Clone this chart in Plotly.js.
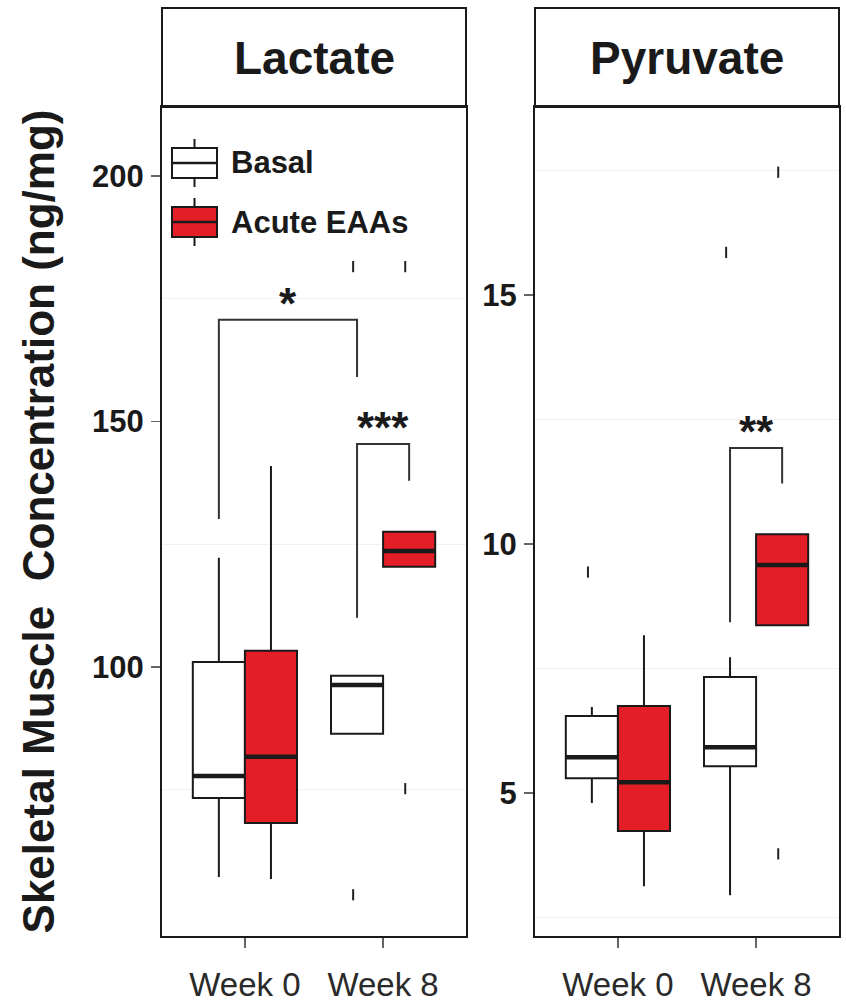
<!DOCTYPE html>
<html><head><meta charset="utf-8">
<script src="https://cdn.plot.ly/plotly-3.0.1.min.js"></script>
<style>body{margin:0;background:#fff}#chart{width:846px;height:1005px}</style>
</head><body><div id="chart"></div>
<script>
// ---------- data ----------
const categories = ['Week 0', 'Week 8'];
const groupNames = ['Basal', 'Acute EAAs'];
const panelTitles = ['Lactate', 'Pyruvate'];
const lacTickVals = [100, 150, 200];
const pyrTickVals = [5, 10, 15];

// Lactate (ng/mg)
const lacBasalQ1 = [73.3, 86.4];
const lacBasalMedian = [77.8, 96.3];
const lacBasalQ3 = [101.0, 98.2];
const lacBasalLower = [57.2, 86.4];
const lacBasalUpper = [122.2, 98.2];
const lacBasalOutliers = [[null], [181.5, 53.6]];

const lacAcuteQ1 = [68.2, 120.4];
const lacAcuteMedian = [81.7, 123.6];
const lacAcuteQ3 = [103.3, 127.5];
const lacAcuteLower = [56.8, 120.4];
const lacAcuteUpper = [140.9, 127.5];
const lacAcuteOutliers = [[null], [181.5, 75.2]];

// Pyruvate (ng/mg)
const pyrBasalQ1 = [5.30, 5.54];
const pyrBasalMedian = [5.72, 5.92];
const pyrBasalQ3 = [6.55, 7.33];
const pyrBasalLower = [4.80, 2.95];
const pyrBasalUpper = [6.73, 7.73];
const pyrBasalOutliers = [[9.44], [15.86]];

const pyrAcuteQ1 = [4.24, 8.37];
const pyrAcuteMedian = [5.22, 9.58];
const pyrAcuteQ3 = [6.75, 10.2];
const pyrAcuteLower = [3.13, 8.37];
const pyrAcuteUpper = [8.17, 10.2];
const pyrAcuteOutliers = [[null], [17.47, 3.78]];

// significance brackets: [category, group] of left & right legs
const lacBracketLabels = ['*', '***'];
const lacBracketLeftCat = [0, 1];
const lacBracketLeftGroup = [0, 0];
const lacBracketRightCat = [1, 1];
const lacBracketRightGroup = [0, 1];
const lacBracketLeftBottom = [130.1, 110.0];
const lacBracketRightBottom = [159.0, 137.9];
const lacBracketTop = [170.7, 145.4];

const pyrBracketLabels = ['**'];
const pyrBracketLeftCat = [1];
const pyrBracketLeftGroup = [0];
const pyrBracketRightCat = [1];
const pyrBracketRightGroup = [1];
const pyrBracketLeftBottom = [8.43];
const pyrBracketRightBottom = [11.22];
const pyrBracketTop = [11.93];

const yTitle = 'Skeletal Muscle\u00a0\u00a0Concentration (ng/mg)';

// ---------- style ----------
const W = 846, H = 1005;
const FONT = 'Liberation Sans, Arial, Helvetica, sans-serif';
const INK = '#1a1a1a';
const RED = '#e41e26';
const fills = ['#ffffff', RED];
const boxgap = 0.246;
const half = (1 - boxgap) / 4;
const offs = [-half, half];
const px = x => x / W;
const py = y => 1 - y / H;
const xDom1 = [px(162), px(466)];
const xDom2 = [px(535), px(839)];
const yDom = [py(936), py(107)];
const stripTop = py(8);

function boxTrace(gi, xa, ya, q1, med, q3, lo, hi, pts) {
  return {
    type: 'box', name: groupNames[gi], x: categories,
    q1: q1, median: med, q3: q3, lowerfence: lo, upperfence: hi, y: pts,
    xaxis: xa, yaxis: ya, offsetgroup: 'g' + gi, legendgroup: 'g' + gi,
    fillcolor: fills[gi], line: {color: INK, width: 2}, whiskerwidth: 0,
    boxpoints: 'all', jitter: 0, pointpos: -0.15,
    marker: {symbol: 'line-ns-open', size: 8, color: '#222', line: {color: '#222', width: 2}},
    showlegend: false, hoverinfo: 'skip'
  };
}

const data = [
  boxTrace(0, 'x', 'y', lacBasalQ1, lacBasalMedian, lacBasalQ3, lacBasalLower, lacBasalUpper, lacBasalOutliers),
  boxTrace(1, 'x', 'y', lacAcuteQ1, lacAcuteMedian, lacAcuteQ3, lacAcuteLower, lacAcuteUpper, lacAcuteOutliers),
  boxTrace(0, 'x2', 'y2', pyrBasalQ1, pyrBasalMedian, pyrBasalQ3, pyrBasalLower, pyrBasalUpper, pyrBasalOutliers),
  boxTrace(1, 'x2', 'y2', pyrAcuteQ1, pyrAcuteMedian, pyrAcuteQ3, pyrAcuteLower, pyrAcuteUpper, pyrAcuteOutliers)
];

const shapes = [];
const annotations = [];

// thick median bars
function medians(xr, yr, med, gi) {
  med.forEach((m, i) => {
    shapes.push({type: 'line', xref: xr, yref: yr, x0: i + offs[gi] - half, x1: i + offs[gi] + half,
      y0: m, y1: m, line: {color: INK, width: 4.5}});
  });
}
medians('x', 'y', lacBasalMedian, 0);
medians('x', 'y', lacAcuteMedian, 1);
medians('x2', 'y2', pyrBasalMedian, 0);
medians('x2', 'y2', pyrAcuteMedian, 1);

// brackets
function brackets(xr, yr, labels, lc, lg, rc, rg, lb, rb, top) {
  labels.forEach((lab, k) => {
    const xl = lc[k] + offs[lg[k]], xrr = rc[k] + offs[rg[k]];
    shapes.push({type: 'path', xref: xr, yref: yr,
      path: `M${xl},${lb[k]} L${xl},${top[k]} L${xrr},${top[k]} L${xrr},${rb[k]}`,
      line: {color: '#333', width: 2}});
    annotations.push({xref: xr, yref: yr, x: (xl + xrr) / 2, y: top[k], text: lab,
      showarrow: false, yanchor: 'bottom', yshift: -10,
      font: {family: FONT, size: 44, weight: 'bold', color: INK}});
  });
}
brackets('x', 'y', lacBracketLabels, lacBracketLeftCat, lacBracketLeftGroup, lacBracketRightCat,
  lacBracketRightGroup, lacBracketLeftBottom, lacBracketRightBottom, lacBracketTop);
brackets('x2', 'y2', pyrBracketLabels, pyrBracketLeftCat, pyrBracketLeftGroup, pyrBracketRightCat,
  pyrBracketRightGroup, pyrBracketLeftBottom, pyrBracketRightBottom, pyrBracketTop);

// facet strips
[xDom1, xDom2].forEach((d, k) => {
  shapes.push({type: 'rect', xref: 'paper', yref: 'paper', x0: d[0], x1: d[1], y0: yDom[1], y1: stripTop,
    fillcolor: '#ffffff', line: {color: INK, width: 2}, layer: 'below'});
  annotations.push({xref: 'paper', yref: 'paper', x: (d[0] + d[1]) / 2, y: (yDom[1] + stripTop) / 2,
    text: panelTitles[k], showarrow: false, xanchor: 'center', yanchor: 'middle',
    font: {family: FONT, size: 46, weight: 'bold', color: INK}});
});

// legend (drawn inside left panel)
const legRows = [163, 222];
legRows.forEach((cy, gi) => {
  shapes.push({type: 'rect', xref: 'paper', yref: 'paper', x0: px(172), x1: px(217), y0: py(cy + 15), y1: py(cy - 15),
    fillcolor: fills[gi], line: {color: INK, width: 2}});
  shapes.push({type: 'line', xref: 'paper', yref: 'paper', x0: px(172), x1: px(217), y0: py(cy), y1: py(cy),
    line: {color: INK, width: 2.5}});
  shapes.push({type: 'line', xref: 'paper', yref: 'paper', x0: px(194.5), x1: px(194.5), y0: py(cy - 15), y1: py(cy - 24),
    line: {color: INK, width: 2}});
  shapes.push({type: 'line', xref: 'paper', yref: 'paper', x0: px(194.5), x1: px(194.5), y0: py(cy + 15), y1: py(cy + 24),
    line: {color: INK, width: 2}});
  annotations.push({xref: 'paper', yref: 'paper', x: px(229), y: py(cy), text: groupNames[gi],
    showarrow: false, xanchor: 'left', yanchor: 'middle',
    font: {family: FONT, size: 31, weight: 'bold', color: INK}});
});

function xAxis(dom, anchor) {
  return {domain: dom, anchor: anchor, type: 'category', categoryarray: categories, range: [-0.6, 1.6],
    showline: true, mirror: true, linecolor: INK, linewidth: 2, showgrid: false, zeroline: false,
    ticks: 'outside', ticklen: 10, tickwidth: 1.5, tickcolor: '#666', ticklabelstandoff: 8,
    tickfont: {family: FONT, size: 33, color: '#2a2a2a'}, fixedrange: true};
}
function yAxis(anchor, range, tickvals, dtick, minor0) {
  return {domain: yDom, anchor: anchor, range: range, tickmode: 'array', tickvals: tickvals,
    showline: true, mirror: true, linecolor: INK, linewidth: 2, showgrid: false, zeroline: false,
    ticks: 'outside', ticklen: 9, tickwidth: 1.5, tickcolor: '#666', ticklabelstandoff: 1,
    tickfont: {family: FONT, size: 31, weight: 'bold', color: INK},
    minor: {tickmode: 'linear', tick0: minor0, dtick: dtick, showgrid: true, gridcolor: '#f1f1f1', gridwidth: 1, ticks: ''},
    fixedrange: true};
}

const layout = {
  width: W, height: H, margin: {l: 0, r: 0, t: 0, b: 0},
  paper_bgcolor: '#ffffff', plot_bgcolor: '#ffffff',
  boxmode: 'group', boxgap: boxgap, boxgroupgap: 0, showlegend: false,
  font: {family: FONT, color: INK},
  xaxis: xAxis(xDom1, 'y'),
  xaxis2: xAxis(xDom2, 'y2'),
  yaxis: Object.assign(yAxis('x', [45.2, 214], lacTickVals, 50, 25), {
    title: {text: yTitle, standoff: 24, font: {family: FONT, size: 44, weight: 'bold', color: INK}}}),
  yaxis2: yAxis('x2', [2.13, 18.78], pyrTickVals, 5, 2.5),
  shapes: shapes, annotations: annotations
};

Plotly.newPlot('chart', data, layout, {staticPlot: true, displayModeBar: false});
</script>
</body></html>
